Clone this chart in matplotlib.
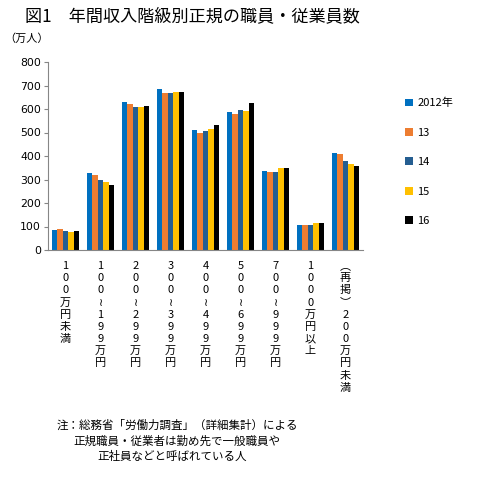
import matplotlib
matplotlib.use("Agg")
import matplotlib.pyplot as plt
import numpy as np

plt.rcParams['font.family'] = ['Noto Sans CJK JP', 'DejaVu Sans']

categories = ["100万円未満", "100～199万円", "200～299万円", "300～399万円",
              "400～499万円", "500～699万円", "700～999万円", "1000万円以上",
              "（再掲）200万円未満"]
series_names = ["2012年", "13", "14", "15", "16"]
v2012 = [85, 328, 628, 686, 511, 588, 337, 107, 413]
v2013 = [89, 320, 622, 666, 500, 580, 332, 107, 409]
v2014 = [80, 298, 609, 666, 507, 597, 332, 107, 379]
v2015 = [76, 290, 609, 673, 516, 592, 349, 115, 367]
v2016 = [79, 277, 614, 673, 533, 626, 349, 115, 358]
yticks = [0, 100, 200, 300, 400, 500, 600, 700, 800]

colors = ["#0070C0", "#ED7D31", "#255E91", "#FFC000", "#000000"]
series = [v2012, v2013, v2014, v2015, v2016]

fig = plt.figure(figsize=(4.84, 4.91), dpi=100)
ax = fig.add_axes([48/484, 1-250/491, 315/484, 188/491])

x = np.arange(len(categories))
bw = 0.156
for i, (vals, c, name) in enumerate(zip(series, colors, series_names)):
    ax.bar(x + (i - 2) * bw, vals, width=bw, color=c, label=name, linewidth=0)

ax.set_xlim(-0.5, len(categories) - 0.5)
ax.set_ylim(0, 800)
ax.set_yticks(yticks)
ax.set_yticklabels([str(t) for t in yticks], fontsize=7.8, family='DejaVu Sans')
for s in ['top', 'right']:
    ax.spines[s].set_visible(False)
for s in ['left', 'bottom']:
    ax.spines[s].set_color('#868686')
    ax.spines[s].set_linewidth(0.8)
ax.tick_params(axis='y', length=3, color='#868686', pad=2)
ax.tick_params(axis='x', length=0, pad=8)

def vertical(s):
    s = s.replace("～", "≀").replace("（", "︵").replace("）", "︶")
    return "\n".join(list(s))

ax.set_xticks(x)
ax.set_xticklabels([vertical(c) for c in categories], fontsize=8, va='top')
for lbl in ax.get_xticklabels():
    lbl.set_linespacing(1.27)

leg = ax.legend(loc='upper left', bbox_to_anchor=(395/484, 1-88/491),
                bbox_transform=fig.transFigure, frameon=False, fontsize=8,
                handlelength=0.7, handleheight=0.7, handletextpad=0.4,
                labelspacing=1.75)

fig.text(25/484, 1-16/491, "図1　年間収入階級別正規の職員・従業員数",
         fontsize=12.3, va='center', ha='left')
fig.text(4/484, 1-39/491, "（万人）", fontsize=8, va='center', ha='left')

fig.text(57/484, 1-425/491, "注：総務省「労働力調査」（詳細集計）による",
         fontsize=8.3, va='center', ha='left')
fig.text(73/484, 1-441/491, "正規職員・従業者は勤め先で一般職員や",
         fontsize=8.3, va='center', ha='left')
fig.text(97/484, 1-456/491, "正社員などと呼ばれている人",
         fontsize=8.3, va='center', ha='left')

fig.savefig("out.png", dpi=100, facecolor='white')
